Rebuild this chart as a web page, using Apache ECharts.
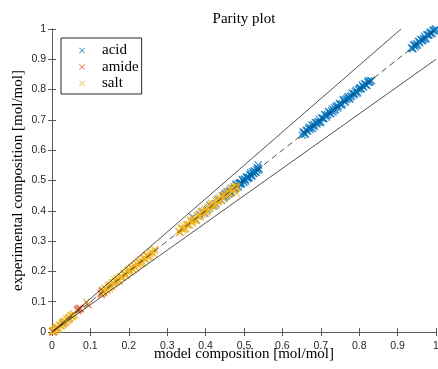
<!DOCTYPE html>
<html>
<head>
<meta charset="utf-8">
<script src="https://cdn.jsdelivr.net/npm/echarts@6/dist/echarts.min.js"></script>
<style>
  html, body { margin: 0; padding: 0; background: #fff; }
  #chart { width: 438px; height: 369px; }
</style>
</head>
<body>
<div id="chart"></div>
<script>
// Parity plot: model vs. experimental composition, [model, experimental] pairs in mol/mol

const xTicks = [0, 0.1, 0.2, 0.3, 0.4, 0.5, 0.6, 0.7, 0.8, 0.9, 1];
const yTicks = [0, 0.1, 0.2, 0.3, 0.4, 0.5, 0.6, 0.7, 0.8, 0.9, 1];
const seriesNames = ['acid', 'amide', 'salt'];

const acidLow = [
  [0.366,0.379],[0.375,0.371],[0.385,0.388],[0.392,0.398],[0.398,0.392],[0.405,0.404],[0.412,0.417],
  [0.421,0.416],[0.427,0.424],[0.433,0.438],[0.441,0.436],
  [0.446,0.450],[0.449,0.446],[0.452,0.458],[0.455,0.450],[0.458,0.459],[0.461,0.459],[0.464,0.469],
  [0.467,0.461],[0.470,0.473],[0.473,0.473],[0.476,0.472],[0.479,0.486],[0.482,0.481],[0.485,0.480],
  [0.488,0.492],[0.491,0.493],[0.494,0.491],[0.497,0.503],[0.500,0.494],[0.503,0.504],[0.506,0.511],
  [0.509,0.507],[0.512,0.508],[0.515,0.518],[0.518,0.525],[0.521,0.516],[0.524,0.524],[0.527,0.531],
  [0.530,0.527],[0.533,0.535],[0.536,0.542],[0.539,0.538],[0.537,0.551],
  [0.4475,0.4425],[0.4505,0.4535],[0.4535,0.4515],[0.4565,0.4625],[0.4595,0.4555],[0.4625,0.4635],
  [0.4655,0.4595],[0.4685,0.4735],[0.4715,0.4705],[0.4745,0.4785],[0.4775,0.4745],[0.4805,0.4875],
  [0.4835,0.4785],[0.4865,0.4885],[0.4895,0.4895],[0.4925,0.4885],[0.4955,0.5015],[0.4985,0.4965],
  [0.5015,0.5045],[0.5045,0.4985],[0.5075,0.5125],[0.5105,0.5095],[0.5135,0.5105],[0.5165,0.5205],
  [0.5195,0.5145],[0.5225,0.5295],[0.5255,0.5235],[0.5285,0.5295],[0.5315,0.5275],[0.5345,0.5405],
  [0.5375,0.5345]
];
const acidMid = [
  [0.652,0.649],[0.656,0.661],[0.660,0.654],[0.664,0.666],[0.668,0.672],[0.672,0.668],[0.676,0.683],
  [0.680,0.679],[0.684,0.679],[0.688,0.691],[0.692,0.692],[0.696,0.702],[0.700,0.693],[0.704,0.706],
  [0.708,0.705],[0.712,0.717],[0.716,0.714],[0.720,0.728],[0.724,0.720],[0.728,0.729],[0.732,0.726],
  [0.736,0.740],[0.740,0.743],[0.744,0.739],[0.748,0.754],[0.752,0.751],[0.756,0.753],[0.760,0.767],
  [0.764,0.760],[0.768,0.770],[0.772,0.777],[0.776,0.770],[0.780,0.780],[0.784,0.787],[0.788,0.786],
  [0.792,0.798],[0.796,0.791],[0.800,0.804],[0.804,0.803],[0.808,0.815],[0.812,0.809],[0.816,0.818],
  [0.820,0.814],[0.824,0.829],[0.828,0.826],[0.832,0.829],
  [0.654,0.658],[0.658,0.653],[0.662,0.664],[0.666,0.663],[0.670,0.676],[0.674,0.673],[0.678,0.672],
  [0.682,0.685],[0.686,0.691],[0.690,0.686],[0.694,0.695],[0.698,0.691],[0.702,0.706],[0.706,0.704],
  [0.710,0.717],[0.714,0.709],[0.718,0.718],[0.722,0.725],[0.726,0.722],[0.730,0.736],[0.734,0.732],
  [0.738,0.733],[0.742,0.747],[0.746,0.745],[0.750,0.752],[0.754,0.748],[0.758,0.765],[0.762,0.759],
  [0.766,0.767],[0.770,0.774],[0.774,0.769],[0.778,0.776],[0.782,0.788],[0.786,0.782],[0.790,0.793],
  [0.794,0.788],[0.798,0.800],[0.802,0.807],[0.806,0.803],[0.810,0.809],[0.814,0.820],[0.818,0.814],
  [0.822,0.825],[0.826,0.824],[0.830,0.830]
];
const acidHigh = [
  [0.936,0.938],[0.940,0.936],[0.944,0.949],[0.948,0.946],[0.952,0.947],[0.956,0.959],[0.960,0.966],
  [0.964,0.961],[0.968,0.969],[0.972,0.966],[0.976,0.980],[0.980,0.979],[0.984,0.987],[0.988,0.984],
  [0.992,0.994],[0.996,0.994],[1.000,1.000],
  [0.938,0.935],[0.942,0.946],[0.946,0.941],[0.950,0.952],[0.954,0.959],[0.958,0.954],[0.962,0.963],
  [0.966,0.964],[0.970,0.976],[0.974,0.969],[0.978,0.981],[0.982,0.981],[0.986,0.990],[0.990,0.987],
  [0.994,0.996],[0.998,0.998]
];

const amidePoints = [
  [0.001,0.002],[0.003,0.000],[0.012,0.014],[0.029,0.030],[0.044,0.046],[0.066,0.071],[0.068,0.074],
  [0.071,0.078],[0.074,0.077],[0.094,0.090],[0.127,0.128],[0.129,0.124],[0.131,0.134],[0.133,0.137],
  [0.134,0.131]
];

const saltLow = [
  [0.002,0.004],[0.005,0.001],[0.008,0.011],[0.011,0.007],[0.014,0.016],[0.017,0.013],[0.020,0.024],
  [0.023,0.019],[0.026,0.029],[0.029,0.025],[0.032,0.036],[0.035,0.031],[0.038,0.043],[0.041,0.038],
  [0.044,0.048],[0.047,0.045],[0.050,0.055],[0.053,0.050],[0.056,0.060],[0.059,0.057],[0.090,0.099],
  [0.003,0.006],[0.007,0.004],[0.013,0.010],[0.019,0.021],[0.025,0.022],[0.031,0.033],[0.037,0.035],
  [0.043,0.041],[0.049,0.052],[0.055,0.054]
];
const saltMid = [
  [0.132,0.137],[0.136,0.132],[0.140,0.142],[0.144,0.138],[0.148,0.155],[0.152,0.151],[0.156,0.151],
  [0.160,0.163],[0.164,0.172],[0.168,0.165],[0.172,0.172],[0.176,0.169],[0.180,0.184],[0.184,0.182],
  [0.188,0.194],[0.192,0.187],[0.196,0.197],[0.200,0.207],[0.204,0.200],[0.208,0.211],[0.212,0.206],
  [0.216,0.218],[0.220,0.225],[0.224,0.221],[0.228,0.227],[0.232,0.238],[0.236,0.231],[0.240,0.244],
  [0.244,0.242],[0.248,0.255],[0.252,0.248],[0.256,0.257],[0.260,0.263],[0.264,0.258],[0.268,0.273],
  [0.134,0.129],[0.138,0.144],[0.142,0.140],[0.146,0.150],[0.150,0.143],[0.154,0.157],[0.158,0.163],
  [0.162,0.158],[0.166,0.166],[0.170,0.177],[0.174,0.168],[0.178,0.180],[0.182,0.179],[0.186,0.192],
  [0.190,0.189],[0.194,0.189],[0.198,0.202],[0.202,0.200],[0.206,0.214],[0.210,0.206],[0.214,0.217],
  [0.218,0.212],[0.222,0.223],[0.226,0.231],[0.230,0.227],[0.234,0.227],[0.238,0.242],[0.242,0.242],
  [0.246,0.252],[0.250,0.248],[0.254,0.249],[0.258,0.265],[0.262,0.261],[0.266,0.269]
];
const saltHigh = [
  [0.330,0.333],[0.334,0.329],[0.338,0.344],[0.342,0.340],[0.346,0.340],[0.350,0.354],[0.354,0.355],
  [0.358,0.354],[0.362,0.369],[0.366,0.363],[0.370,0.372],[0.374,0.367],[0.378,0.383],[0.382,0.382],
  [0.386,0.381],[0.390,0.398],[0.394,0.392],[0.398,0.401],[0.402,0.396],[0.406,0.410],[0.410,0.409],
  [0.414,0.420],[0.418,0.414],[0.422,0.424],[0.426,0.418],[0.430,0.435],[0.434,0.431],[0.438,0.439],
  [0.442,0.449],[0.446,0.441],[0.450,0.453],[0.454,0.452],[0.458,0.464],[0.462,0.456],[0.466,0.466],
  [0.470,0.474],[0.474,0.471],[0.478,0.483],[0.482,0.481],[0.481,0.457],
  [0.332,0.328],[0.336,0.341],[0.340,0.339],[0.344,0.350],[0.348,0.342],[0.352,0.354],[0.356,0.353],
  [0.360,0.367],[0.364,0.359],[0.368,0.369],[0.372,0.376],[0.376,0.369],[0.380,0.383],[0.384,0.382],
  [0.388,0.394],[0.392,0.388],[0.396,0.396],[0.400,0.405],[0.404,0.398],[0.408,0.410],[0.412,0.409],
  [0.416,0.424],[0.420,0.419],[0.424,0.419],[0.428,0.432],[0.432,0.430],[0.436,0.442],[0.440,0.433],
  [0.444,0.445],[0.448,0.451],[0.452,0.448],[0.456,0.461],[0.460,0.459],[0.464,0.458],[0.468,0.475],
  [0.472,0.469],[0.476,0.478],[0.480,0.475]
];

// Reference lines: perfect agreement and the ±10 % band
const parityLine = [[0, 0], [1, 1]];
const upperLine = [[0, 0], [1 / 1.1, 1]];
const lowerLine = [[0, 0], [1, 0.9]];

const colors = { acid: '#0072BD', amide: '#D95319', salt: '#EDB120' };
const cross = 'path://M0,1L1,0L5,4L9,0L10,1L6,5L10,9L9,10L5,6L1,10L0,9L4,5Z';
const axisColor = '#262626';
const serif = 'Liberation Serif';
const sans = 'Liberation Sans';

const tickFmt = v => {
  const t = Math.round(v * 10) / 10;
  return t === 0 ? '0' : t === 1 ? '1' : String(t);
};

const baseAxis = {
  type: 'value', min: 0, max: 1, interval: 0.1,
  axisLine: { show: true, lineStyle: { color: '#5a5a5a', width: 1 } },
  axisTick: { show: true, inside: true, length: 4, lineStyle: { color: '#5a5a5a', width: 1 } },
  splitLine: { show: false }
};

function scatter(name, data) {
  return {
    name, type: 'scatter', data, symbol: cross, symbolSize: 8,
    itemStyle: { color: colors[name] }, silent: true, z: 2
  };
}
function refLine(data, dashed) {
  return {
    type: 'line', data, symbol: 'none', silent: true, z: 4,
    lineStyle: { color: axisColor, width: 0.8, type: dashed ? [6, 4] : 'solid' }
  };
}

const chart = echarts.init(document.getElementById('chart'), null, { renderer: 'canvas' });
chart.setOption({
  animation: false,
  backgroundColor: '#fff',
  grid: { left: 52, right: 2, top: 29, bottom: 37, containLabel: false, outerBoundsMode: 'none' },
  legend: {
    data: seriesNames, orient: 'vertical', left: 61, top: 38,
    backgroundColor: '#fff', borderColor: axisColor, borderWidth: 1,
    padding: [5, 3, 3, 18], itemWidth: 30, itemHeight: 6, itemGap: 1.5,
    textStyle: { fontFamily: serif, fontSize: 15, color: '#000' }
  },
  xAxis: [
    Object.assign({}, baseAxis, {
      position: 'bottom',
      name: 'model composition [mol/mol]', nameLocation: 'middle', nameGap: 15,
      nameMoveOverlap: false,
      nameTextStyle: { fontFamily: serif, fontSize: 15, color: '#000' },
      axisLabel: { margin: 9, fontFamily: sans, fontSize: 10.5, color: axisColor, formatter: tickFmt }
    }),
    Object.assign({}, baseAxis, {
      position: 'top',
      name: 'Parity plot', nameLocation: 'middle', nameGap: 2,
      nameMoveOverlap: false,
      nameTextStyle: { fontFamily: serif, fontSize: 15, color: '#000' },
      axisLabel: { show: false }
    })
  ],
  yAxis: [
    Object.assign({}, baseAxis, {
      position: 'left',
      name: 'experimental composition [mol/mol]', nameLocation: 'middle', nameGap: 26,
      nameMoveOverlap: false,
      nameTextStyle: { fontFamily: serif, fontSize: 15, color: '#000' },
      axisLabel: { margin: 6, fontFamily: sans, fontSize: 10.5, color: axisColor, formatter: tickFmt }
    }),
    Object.assign({}, baseAxis, {
      position: 'right',
      axisLabel: { show: false }
    })
  ],
  series: [
    scatter('acid', acidLow.concat(acidMid, acidHigh)),
    scatter('amide', amidePoints),
    scatter('salt', saltLow.concat(saltMid, saltHigh)),
    refLine(parityLine, true),
    refLine(upperLine, false),
    refLine(lowerLine, false)
  ]
});
</script>
</body>
</html>
